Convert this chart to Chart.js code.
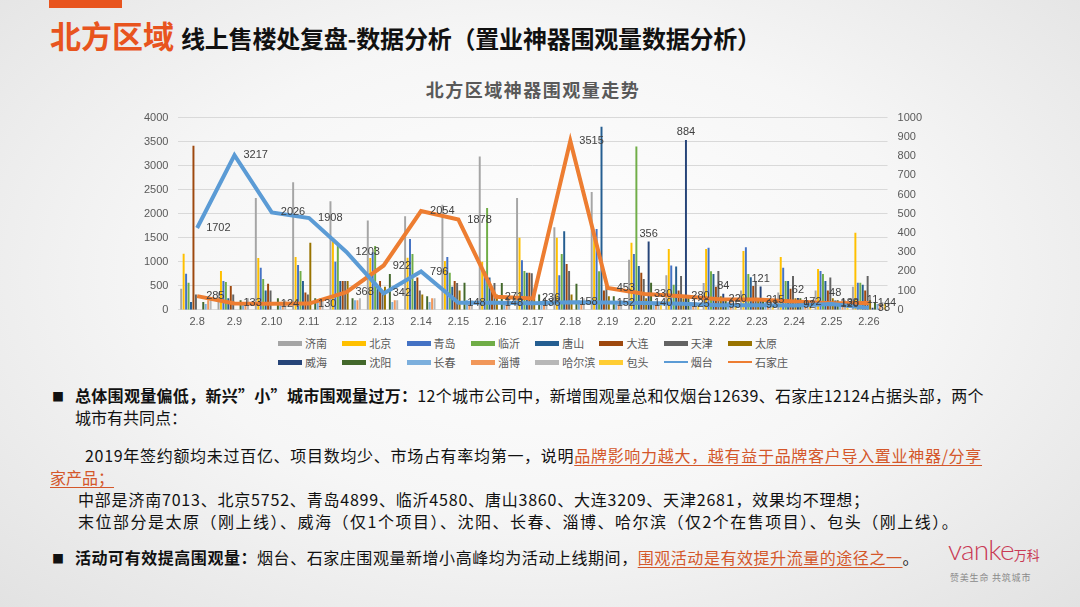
<!DOCTYPE html>
<html>
<head>
<meta charset="utf-8">
<script src="https://cdn.jsdelivr.net/npm/chart.js@4.4.1/dist/chart.umd.min.js"></script>
<style>
  html, body { margin: 0; padding: 0; }
  body {
    width: 1080px; height: 607px; overflow: hidden; position: relative;
    background: radial-gradient(ellipse at 50% 45%, #ffffff 0%, #f6f6f6 50%, #e2e2e2 100%);
    font-family: "Noto Sans CJK SC", "Noto Sans", sans-serif;
    color: #111;
  }
  .topbar { position: absolute; left: 49px; top: 0; width: 73px; height: 8px; background: #e8541e; }
  .head { position: absolute; left: 50px; top: 12px; white-space: nowrap; font-weight: 700; }
  .head .red { color: #e8541e; font-size: 31px; }
  .head .blk { color: #111; font-size: 24px; margin-left: 7px; letter-spacing: -0.2px; }
  .ctitle { position: absolute; left: 0; width: 1066px; top: 76px; text-align: center;
    font-size: 18px; font-weight: 700; color: #595959; letter-spacing: 1.5px; }
  #wrap { position: absolute; left: 130px; top: 101px; width: 802px; height: 234px; }
  #legend { position: absolute; left: 278px; top: 336px; width: 540px;
    display: grid; grid-template-columns: repeat(8, 64.3px); row-gap: 5px;
    font-size: 11px; color: #595959; }
  #legend .it { display: flex; align-items: center; height: 14px; white-space: nowrap; }
  #legend .mk { width: 24px; margin-right: 3px; }
  .txt { position: absolute; white-space: nowrap; font-size: 16px; color: #111; }
  .txt b { font-weight: 700; }
  .bul { position: absolute; left: 52px; font-size: 12px; }
  .hl { color: #d4572a; text-decoration: underline; text-underline-offset: 3px; }
  .logo { position: absolute; left: 948px; top: 532px; white-space: nowrap; color: #c93a55; }
  .logo .v { font-family: Lato, "Open Sans", sans-serif; font-weight: 300; font-size: 28px; letter-spacing: -0.8px; }
  .logo .w { font-size: 13px; }
  .slogan { position: absolute; left: 950px; top: 571px; font-size: 9px; color: #8a8a8a; letter-spacing: 0.8px; white-space: nowrap; }
</style>
</head>
<body>
<div class="topbar"></div>
<div class="head"><span class="red">北方区域</span><span class="blk">线上售楼处复盘-数据分析（置业神器围观量数据分析）</span></div>
<div class="ctitle">北方区域神器围观量走势</div>
<div id="wrap"><canvas id="chart"></canvas></div>
<div id="legend"></div>

<div class="bul" style="top:388px;">■</div>
<div class="txt" style="left:75px; top:383px; letter-spacing:0.3px;"><b>总体围观量偏低，新兴”小”城市围观量过万：</b>12个城市公司中，新增围观量总和仅烟台12639、石家庄12124占据头部，两个</div>
<div class="txt" style="left:75px; top:405px;">城市有共同点：</div>
<div class="txt" style="left:85px; top:443px; letter-spacing:0.7px;">2019年签约额均未过百亿、项目数均少、市场占有率均第一，说明<span class="hl">品牌影响力越大，越有益于品牌客户导入置业神器/分享</span></div>
<div class="txt" style="left:50px; top:465px;"><span class="hl">家产品；</span></div>
<div class="txt" style="left:78px; top:487px; letter-spacing:0.8px;">中部是济南7013、北京5752、青岛4899、临沂4580、唐山3860、大连3209、天津2681，效果均不理想；</div>
<div class="txt" style="left:78px; top:509px; letter-spacing:1.5px;">末位部分是太原（刚上线）、威海（仅1个项目）、沈阳、长春、淄博、哈尔滨（仅2个在售项目）、包头（刚上线）。</div>
<div class="bul" style="top:550px;">■</div>
<div class="txt" style="left:75px; top:545px; letter-spacing:0.55px;"><b>活动可有效提高围观量：</b>烟台、石家庄围观量新增小高峰均为活动上线期间，<span class="hl">围观活动是有效提升流量的途径之一</span>。</div>

<div class="logo"><span class="v">vanke</span><span class="w">万科</span></div>
<div class="slogan">赞美生命 共筑城市</div>

<script>
// dates on the x axis
const days = ['2.8', '2.9', '2.10', '2.11', '2.12', '2.13', '2.14', '2.15', '2.16', '2.17',
  '2.18', '2.19', '2.20', '2.21', '2.22', '2.23', '2.24', '2.25', '2.26'];

// daily views per city (bars, right axis 0-1000)
const jinan     = [110, 90, 582, 663, 565, 464, 487, 547, 798, 582, 430, 613, 260, 180, 140, 100, 90, 100, 120];
const beijing   = [292, 202, 269, 275, 357, 270, 271, 254, 250, 375, 375, 390, 349, 316, 316, 306, 275, 212, 401];
const qingdao   = [188, 150, 219, 233, 250, 300, 368, 275, 200, 258, 180, 420, 290, 230, 323, 326, 219, 202, 141];
const linyi     = [141, 145, 160, 202, 332, 332, 290, 193, 530, 202, 290, 200, 850, 130, 200, 186, 150, 186, 141];
const tangshan  = [40, 60, 100, 150, 150, 120, 150, 120, 168, 193, 409, 953, 228, 225, 186, 170, 150, 150, 130];
const dalian    = [853, 124, 136, 90, 150, 150, 168, 150, 120, 193, 238, 100, 193, 100, 120, 124, 110, 100, 100];
const tianjin   = [80, 80, 100, 80, 150, 100, 100, 140, 140, 190, 202, 150, 160, 176, 202, 150, 176, 168, 176];
const taiyuan   = [0, 0, 0, 349, 150, 120, 80, 100, 80, 90, 80, 70, 60, 60, 70, 60, 60, 60, 50];
const weihai    = [null, null, null, null, null, null, null, null, null, null, null, null, 356, 884, 84, 121, 62, 48, 11];
const shenyang  = [40, 50, 60, 60, 60, 186, 70, 141, 140, 80, 135, 70, 141, 70, 60, 60, 60, 50, 40];
const changchun = [30, 30, 40, 40, 50, 40, 40, 50, 40, 40, 50, 40, 40, 40, 40, 40, 40, 40, 30];
const zibo      = [50, 40, 40, 60, 50, 50, 60, 40, 50, 40, 40, 50, 40, 40, 40, 30, 30, 30, 30];
const haerbin   = [60, 60, 50, 50, 60, 50, 60, 50, 60, 50, 60, 50, 40, 40, 40, 40, 50, 50, 40];
const baotou    = [0, 0, 0, 0, 0, 0, 0, 0, 0, 0, 0, 0, 30, 30, 30, 30, 30, 40, 30];

// the two leading cities (lines, left axis 0-4000)
const yantai       = [1702, 3217, 2026, 1908, 1203, 342, 796, 148, 148, 136, 158, 152, 140, 125, 95, 93, 92, 120, 38];
const shijiazhuang = [285, 133, 124, 130, 368, 922, 2054, 1878, 271, 236, 3515, 453, 330, 280, 220, 215, 172, 138, 144];

const barCities = ['济南', '北京', '青岛', '临沂', '唐山', '大连', '天津', '太原', '威海', '沈阳', '长春', '淄博', '哈尔滨', '包头'];
const barValues = [jinan, beijing, qingdao, linyi, tangshan, dalian, tianjin, taiyuan, weihai, shenyang, changchun, zibo, haerbin, baotou];
const barColors = ['#a5a5a5', '#ffc000', '#4472c4', '#70ad47', '#255e91', '#9e480e', '#636363', '#997300',
  '#264478', '#43682b', '#7cafdd', '#f1975a', '#b7b7b7', '#ffcd33'];
const lineCities = ['烟台', '石家庄'];
const lineValues = [yantai, shijiazhuang];
const lineColors = ['#5b9bd5', '#ed7d31'];

const datasets = [];
barCities.forEach((name, i) => {
  datasets.push({
    type: 'bar', label: name, data: barValues[i], yAxisID: 'y1',
    backgroundColor: barColors[i], order: 2,
    categoryPercentage: 0.92, barPercentage: 0.8,
    labelPos: name === '威海' ? 'top' : null
  });
});
lineCities.forEach((name, i) => {
  datasets.push({
    type: 'line', label: name, data: lineValues[i], yAxisID: 'y',
    borderColor: lineColors[i], backgroundColor: lineColors[i],
    borderWidth: 4, pointRadius: 0, tension: 0, order: 1,
    labelPos: 'right'
  });
});

// data labels like the excel chart
const valueLabels = {
  id: 'valueLabels',
  afterDatasetsDraw(chart) {
    const ctx = chart.ctx;
    ctx.save();
    ctx.font = '11px "Liberation Sans", sans-serif';
    ctx.fillStyle = '#404040';
    chart.data.datasets.forEach((ds, i) => {
      if (!ds.labelPos) return;
      const meta = chart.getDatasetMeta(i);
      meta.data.forEach((el, j) => {
        const v = ds.data[j];
        if (v === null || v === undefined) return;
        if (ds.labelPos === 'right') {
          ctx.textAlign = 'left';
          ctx.textBaseline = 'middle';
          ctx.fillText(String(v), el.x + 9, el.y);
        } else {
          ctx.textAlign = 'center';
          ctx.textBaseline = 'bottom';
          ctx.fillText(String(v), el.x, el.y - 2);
        }
      });
    });
    ctx.restore();
  }
};

const tickFont = { family: '"Liberation Sans", sans-serif', size: 11 };
const plain = v => String(v);

new Chart(document.getElementById('chart'), {
  data: { labels: days, datasets: datasets },
  options: {
    responsive: true,
    maintainAspectRatio: false,
    animation: false,
    layout: { padding: { left: 4, right: 0, top: 6, bottom: 0 } },
    plugins: {
      legend: { display: false },
      title: { display: false },
      tooltip: { enabled: false }
    },
    scales: {
      x: {
        offset: true,
        grid: { display: false, drawTicks: false },
        border: { display: false },
        ticks: { color: '#595959', font: tickFont, maxRotation: 0, autoSkip: false, padding: 6 }
      },
      y: {
        position: 'left', min: 0, max: 4000,
        ticks: { stepSize: 500, color: '#595959', font: tickFont, padding: 10, callback: plain },
        grid: { color: '#d9d9d9', drawTicks: false },
        border: { display: false }
      },
      y1: {
        position: 'right', min: 0, max: 1000,
        ticks: { stepSize: 100, color: '#595959', font: tickFont, padding: 10, callback: plain },
        grid: { display: false, drawTicks: false },
        border: { display: false }
      }
    }
  },
  plugins: [valueLabels]
});

// legend in two rows as in the reference
const legend = document.getElementById('legend');
const legendItems = barCities.map((n, i) => ({ name: n, color: barColors[i], line: false }))
  .concat(lineCities.map((n, i) => ({ name: n, color: lineColors[i], line: true })));
legendItems.forEach(item => {
  const div = document.createElement('div');
  div.className = 'it';
  const mk = document.createElement('span');
  mk.className = 'mk';
  mk.style.height = item.line ? '2px' : '5px';
  mk.style.background = item.color;
  div.appendChild(mk);
  div.appendChild(document.createTextNode(item.name));
  legend.appendChild(div);
});
</script>
</body>
</html>
